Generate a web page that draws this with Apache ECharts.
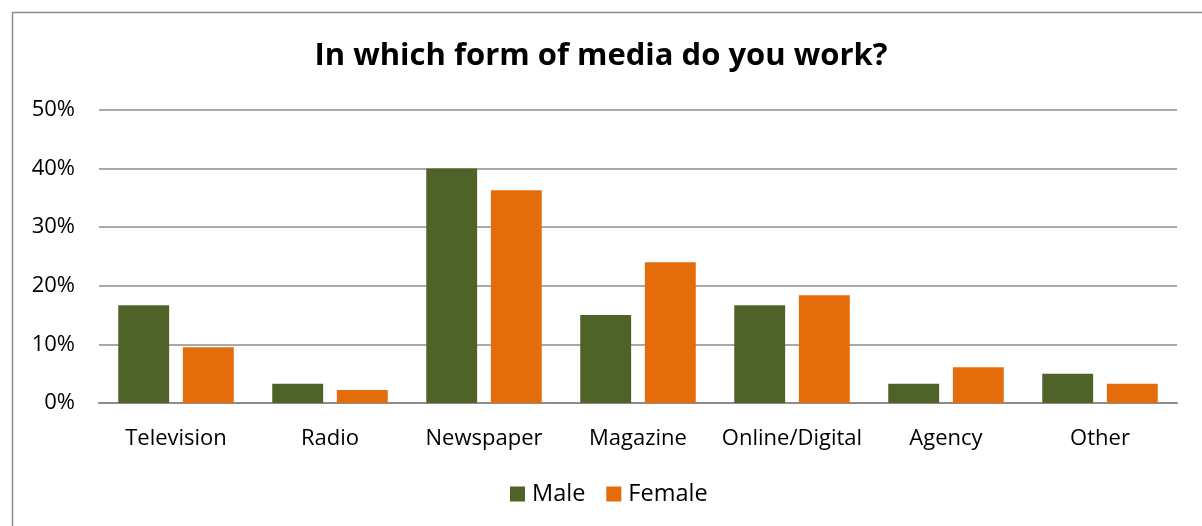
<!DOCTYPE html>
<html>
<head>
<meta charset="utf-8">
<script src="https://cdn.jsdelivr.net/npm/echarts@6/dist/echarts.min.js"></script>
<style>
html,body{margin:0;padding:0;background:#fff;}
#chart{width:1202px;height:526px;}
</style>
</head>
<body>
<div id="chart"></div>
<script>
const categories = ['Television','Radio','Newspaper','Magazine','Online/Digital','Agency','Other'];
const maleValues = [16.7, 3.3, 40.0, 15.0, 16.7, 3.3, 5.0];
const femaleValues = [9.5, 2.2, 36.3, 24.0, 18.4, 6.1, 3.3];
const yTicks = [0, 10, 20, 30, 40, 50];
const titleText = 'In which form of media do you work?';

const font = 'Open Sans';
const chart = echarts.init(document.getElementById('chart'));
chart.setOption({
  backgroundColor: '#fff',
  animation: false,
  graphic: [{
    type: 'rect', left: 10, top: 10,
    shape: { width: 1300, height: 600 },
    style: { fill: 'none', stroke: '#8c8c8c', lineWidth: 1.5 },
    silent: true
  }],
  title: {
    text: titleText, left: 'center', top: 36,
    textStyle: { fontFamily: font, fontWeight: 'bold', fontSize: 31, color: '#000' }
  },
  grid: { left: 99, right: 25, top: 110, bottom: 123, containLabel: false },
  legend: {
    data: ['Male', 'Female'], bottom: 15, left: 505,
    itemWidth: 15, itemHeight: 15, itemGap: 21, icon: 'rect',
    textStyle: { fontFamily: font, fontSize: 23.5, color: '#000', padding: [0, 0, 0, 2] }
  },
  xAxis: {
    type: 'category', data: categories,
    axisLine: { lineStyle: { color: '#8c8c8c', width: 2 } },
    axisTick: { show: false },
    axisLabel: { interval: 0, fontFamily: font, fontSize: 22, color: '#000', margin: 25 }
  },
  yAxis: {
    type: 'value', min: yTicks[0], max: yTicks[yTicks.length - 1], interval: 10,
    axisLine: { show: false }, axisTick: { show: false },
    axisLabel: { fontFamily: font, fontSize: 22, color: '#000', margin: 24, formatter: v => v + '%' },
    splitLine: { lineStyle: { color: '#8c8c8c', width: 1.5 } }
  },
  series: [
    { name: 'Male', type: 'bar', data: maleValues, barGap: '27%', barCategoryGap: '25%',
      itemStyle: { color: '#4F6228' } },
    { name: 'Female', type: 'bar', data: femaleValues,
      itemStyle: { color: '#E46C0A' } }
  ]
});
</script>
</body>
</html>
